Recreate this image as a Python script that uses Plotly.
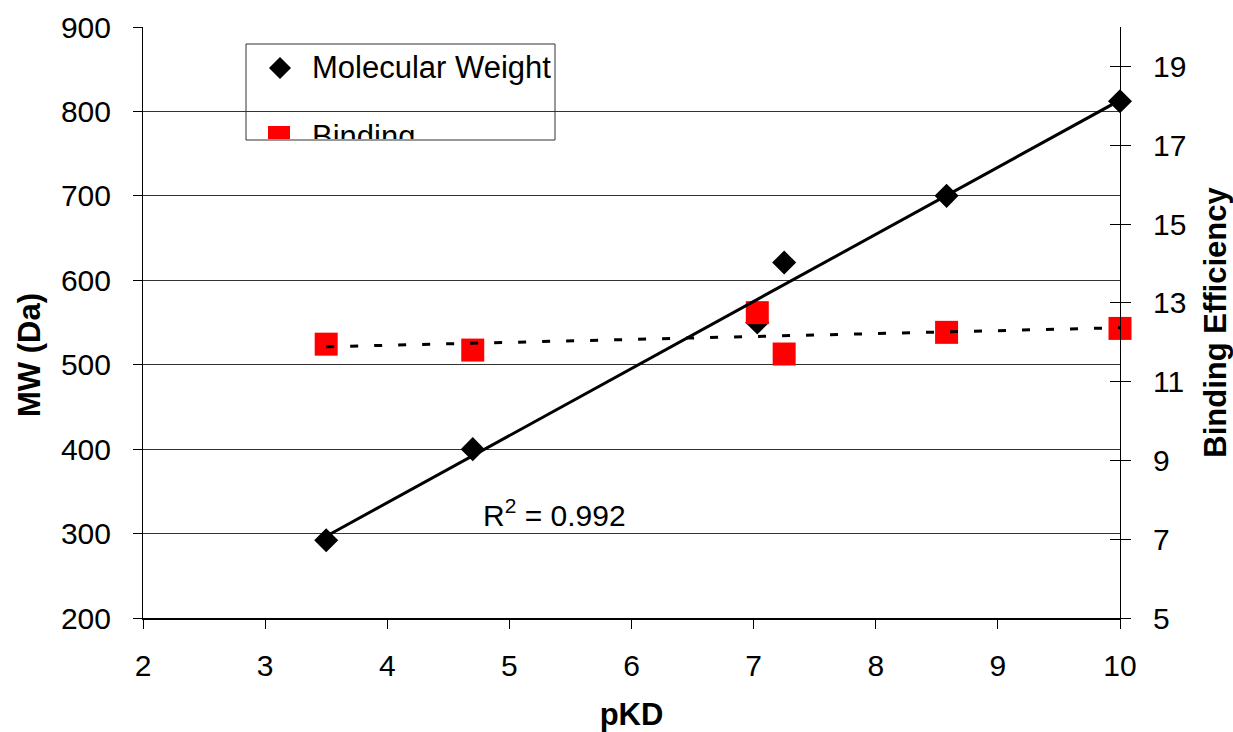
import numpy as np
import plotly.graph_objects as go

# pKD of each compound
pkd = [3.5, 4.7, 7.03, 7.25, 8.58, 10.0]
# molecular weight (Da)
mw = [292, 400, 550, 621, 700, 812]
# binding efficiency
be = [11.95, 11.8, 12.75, 11.7, 12.25, 12.35]

x_ticks = [2, 3, 4, 5, 6, 7, 8, 9, 10]
mw_ticks = [200, 300, 400, 500, 600, 700, 800, 900]
be_ticks = [5, 7, 9, 11, 13, 15, 17, 19]

FONT = "Arial, Liberation Sans, sans-serif"

# linear trendlines
x_arr = np.array(pkd)
mw_fit = np.polyfit(x_arr, np.array(mw), 1)
be_fit = np.polyfit(x_arr, np.array(be), 1)
x_line = np.array([min(pkd), max(pkd)])

# plot area in pixels
L, R, T, B = 143, 1120, 27, 618
W, H = 1233, 732


def px_x(px):
    return (px - L) / (R - L)


def px_y(py):
    return (B - py) / (B - T)


fig = go.Figure()

fig.add_trace(go.Scatter(
    x=pkd, y=mw, mode="markers", name="Molecular Weight",
    marker=dict(symbol="diamond", size=18.5, color="black"),
    yaxis="y", showlegend=False, cliponaxis=False,
))
fig.add_trace(go.Scatter(
    x=pkd, y=be, mode="markers", name="Binding Efficiency",
    marker=dict(symbol="square", size=23, color="#ff0000"),
    yaxis="y2", showlegend=False, cliponaxis=False,
))
fig.add_trace(go.Scatter(
    x=x_line, y=np.polyval(be_fit, x_line), mode="lines",
    line=dict(color="black", width=3, dash="8px,16px"),
    yaxis="y2", showlegend=False, hoverinfo="skip",
))
fig.add_trace(go.Scatter(
    x=x_line, y=np.polyval(mw_fit, x_line), mode="lines",
    line=dict(color="black", width=3),
    yaxis="y3", showlegend=False, hoverinfo="skip", cliponaxis=False,
))
# carrier for the inner tick marks of the right axis
fig.add_trace(go.Scatter(
    x=pkd, y=be, mode="markers", marker=dict(opacity=0),
    yaxis="y4", showlegend=False, hoverinfo="skip",
))

tickfont = dict(family=FONT, size=30, color="black")
titlefont = dict(family=FONT, size=31, color="black", weight="bold")

fig.update_layout(
    width=W, height=H,
    margin=dict(l=L, r=W - R, t=T, b=H - B, autoexpand=False),
    paper_bgcolor="white", plot_bgcolor="white",
    font=dict(family=FONT, color="black"),
    xaxis=dict(
        range=[2, 10], tickvals=x_ticks, ticks="outside", ticklen=9,
        tickcolor="black", showline=True, linecolor="black", linewidth=2,
        showgrid=False, zeroline=False, tickfont=tickfont,
        ticklabelstandoff=11,
        title=dict(text="pKD", font=titlefont, standoff=36),
    ),
    yaxis=dict(
        range=[200, 900], tickvals=mw_ticks, ticks="outside", ticklen=9,
        tickcolor="black", showline=True, linecolor="black", linewidth=1,
        showgrid=True, gridcolor="#333333", gridwidth=1, zeroline=False,
        tickfont=tickfont, ticklabelstandoff=16,
    ),
    yaxis2=dict(
        range=[5, 20], tickvals=be_ticks, side="right", overlaying="y",
        ticks="outside", ticklen=10, tickcolor="black", showline=True,
        linecolor="black", linewidth=1, showgrid=False, zeroline=False,
        tickfont=tickfont, ticklabelstandoff=16,
        title=dict(text="Binding Efficiency", font=titlefont, standoff=18),
    ),
    yaxis3=dict(range=[200, 900], overlaying="y", visible=False),
    yaxis4=dict(
        range=[5, 20], tickvals=be_ticks, side="right", overlaying="y",
        ticks="inside", ticklen=10, tickcolor="black", showline=False,
        showgrid=False, zeroline=False, showticklabels=False,
    ),
)

# left axis title, set a little below the middle of the axis
fig.add_annotation(
    text="<b>MW (Da)</b>", xref="paper", yref="paper",
    x=px_x(29), y=px_y(355), xanchor="center", yanchor="middle",
    textangle=-90, showarrow=False,
    font=dict(family=FONT, size=31, color="black"),
)

# legend box
shapes = [
    dict(type="rect", xref="paper", yref="paper", layer="between",
         x0=px_x(246), x1=px_x(555), y0=px_y(140), y1=px_y(44),
         fillcolor="white", line=dict(color="#333333", width=1)),
    dict(type="path", xref="paper", yref="paper", layer="between",
         path=(f"M {px_x(269)},{px_y(68)} L {px_x(280)},{px_y(57)} "
               f"L {px_x(291)},{px_y(68)} L {px_x(280)},{px_y(79)} Z"),
         fillcolor="black", line=dict(width=0)),
    dict(type="rect", xref="paper", yref="paper", layer="between",
         x0=px_x(268), x1=px_x(290), y0=px_y(139), y1=px_y(126),
         fillcolor="#ff0000", line=dict(width=0)),
]
fig.update_layout(shapes=shapes)

legfont = dict(family=FONT, size=31, color="black")
fig.add_annotation(
    text="Molecular Weight", xref="paper", yref="paper",
    x=px_x(310), y=px_y(67), xanchor="left", yanchor="middle",
    showarrow=False, font=legfont,
)
fig.add_annotation(
    text="Binding", xref="paper", yref="paper",
    x=px_x(310), y=px_y(117), xanchor="left", yanchor="top",
    height=20, valign="top", showarrow=False, font=legfont,
)
fig.add_annotation(
    text="R<sup>2</sup> = 0.992", xref="paper", yref="paper",
    x=px_x(554), y=px_y(513), xanchor="center", yanchor="middle",
    showarrow=False, font=dict(family=FONT, size=30, color="black"),
)

fig.write_html("out.html")
